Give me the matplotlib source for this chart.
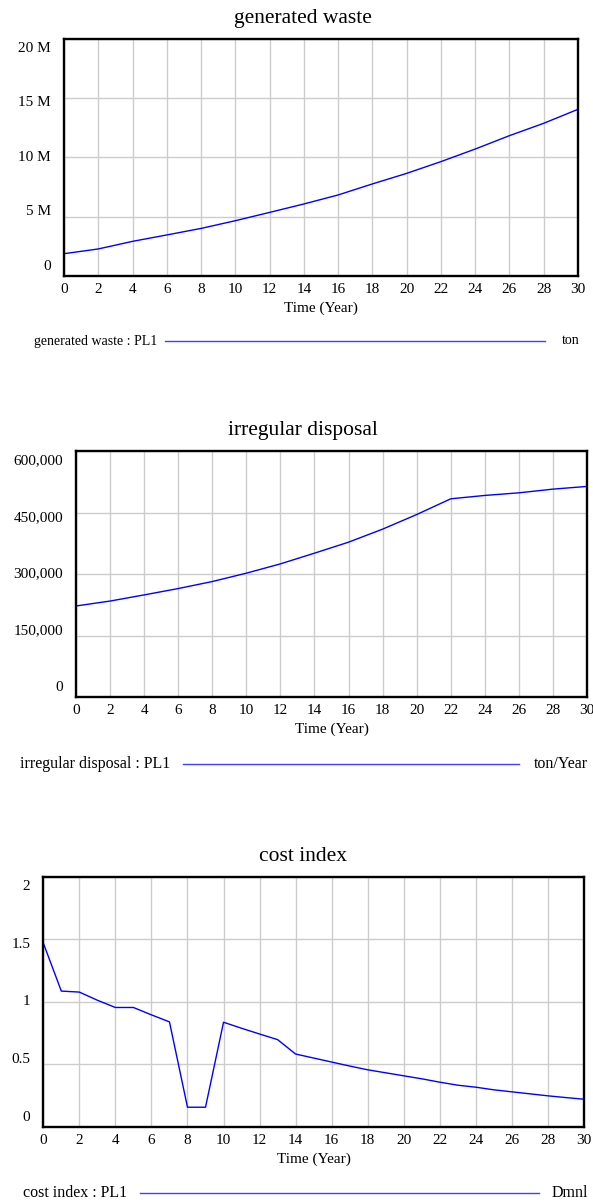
import numpy as np
import matplotlib.pyplot as plt
from matplotlib.lines import Line2D

plt.rcParams['font.family'] = ['Liberation Serif', 'DejaVu Serif']

W, H = 593, 1204

# data (Vensim style output)
years = np.arange(0, 31)

waste_t = [0, 2, 4, 6, 8, 10, 12, 14, 16, 18, 20, 22, 24, 26, 28, 30]
waste = [1.88e6, 2.28e6, 2.92e6, 3.46e6, 4.01e6, 4.66e6, 5.36e6, 6.07e6,
         6.83e6, 7.76e6, 8.65e6, 9.64e6, 10.7e6, 11.83e6, 12.87e6, 14.05e6]

disp_t = [0, 1, 2, 4, 6, 8, 10, 12, 14, 16, 18, 20, 22, 24, 26, 28, 30]
disposal = [222e3, 228e3, 234e3, 249e3, 264.5e3, 281.6e3, 302e3, 324.7e3,
            350.8e3, 377.6e3, 409.4e3, 445e3, 483.4e3, 491.6e3, 498e3,
            507e3, 513.6e3]

cost = [1.47, 1.086, 1.078, 1.013, 0.955, 0.955, 0.896, 0.84, 0.158, 0.158,
        0.837, 0.789, 0.743, 0.698, 0.583, 0.551, 0.519, 0.487, 0.457, 0.433,
        0.409, 0.385, 0.358, 0.334, 0.318, 0.297, 0.281, 0.265, 0.249, 0.235,
        0.222]

waste_ticks = [0, 5e6, 10e6, 15e6, 20e6]
waste_labels = ["0", "5 M", "10 M", "15 M", "20 M"]
disp_ticks = [0, 150e3, 300e3, 450e3, 600e3]
disp_labels = ["0", "150,000", "300,000", "450,000", "600,000"]
cost_ticks = [0, 0.5, 1, 1.5, 2]
cost_labels = ["0", "0.5", "1", "1.5", "2"]

fig = plt.figure(figsize=(W / 100, H / 100), dpi=100)


def fx(px):
    return px / W


def fy(py):
    return 1 - py / H


def panel(box, xs, ys, ticks, labels, title, legend, unit, leg, legsize=11.5):
    left, right, top, bottom = box
    ax = fig.add_axes([fx(left), fy(bottom), fx(right - left), (bottom - top) / H])
    ax.plot(xs, ys, color='#0000ff', lw=1.0)
    ax.set_xlim(0, 30)
    ax.set_ylim(ticks[0], ticks[-1])
    ax.set_xticks(range(0, 31, 2))
    ax.set_yticks(ticks)
    ax.set_yticklabels([])
    ax.grid(True, color='#cccccc', lw=1.0)
    ax.tick_params(length=0, labelsize=11, pad=5)
    for s in ax.spines.values():
        s.set_linewidth(1.7)
    # vensim spreads y labels slightly inside the box
    h = bottom - top
    off = 9.5 / h
    for i, lab in enumerate(labels):
        ax.text(-13 / (right - left), off + i * (1 - 2 * off) / 4, lab,
                transform=ax.transAxes, ha='right', va='center', fontsize=11)
    fig.text(fx(303), fy(top - 20), title, ha='center', va='center', fontsize=15.5)
    fig.text(fx((left + right) / 2), fy(bottom + 32), "Time (Year)",
             ha='center', va='center', fontsize=11)
    ly, tx, l0, l1, ux = leg
    fig.text(fx(tx), fy(ly), legend, ha='left', va='center', fontsize=legsize)
    fig.add_artist(Line2D([fx(l0), fx(l1)], [fy(ly), fy(ly)], color='#4040ff', lw=1.0))
    fig.text(fx(ux), fy(ly), unit, ha='right', va='center', fontsize=legsize)
    return ax


panel((64, 578, 38.7, 276), waste_t, waste, waste_ticks, waste_labels,
      "generated waste", "generated waste : PL1", "ton", (341, 34, 165, 545, 580),
      legsize=10)
panel((76, 587, 451, 697), disp_t, disposal, disp_ticks, disp_labels,
      "irregular disposal", "irregular disposal : PL1", "ton/Year", (764, 20, 183, 519, 588))
panel((43.3, 584, 876.7, 1127), years, cost, cost_ticks, cost_labels,
      "cost index", "cost index : PL1", "Dmnl", (1193, 22.7, 140, 539, 588))

fig.savefig("out.png", dpi=100)
